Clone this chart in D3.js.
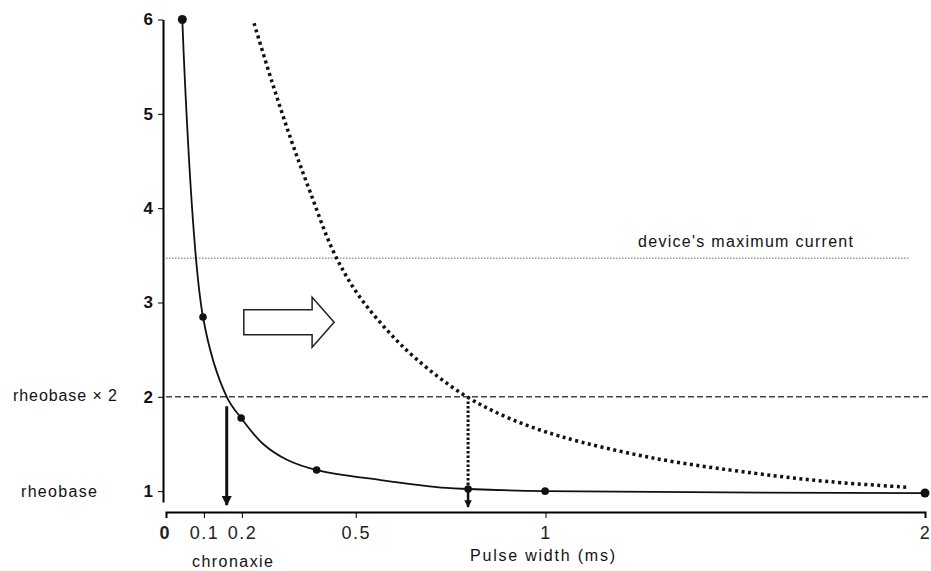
<!DOCTYPE html>
<html>
<head>
<meta charset="utf-8">
<script src="https://cdn.jsdelivr.net/npm/d3@7"></script>
<style>
  body { margin: 0; background: #fff; }
  svg { display: block; font-family: "Liberation Sans", Arial, sans-serif; }
</style>
</head>
<body>
<div class="chart"></div>
<script>
// measured points (pulse width ms, current in rheobase units)
const markerT = [0.043, 0.0975, 0.198, 0.397, 0.796, 0.999, 2.0];
const markerI = [6.0, 2.846, 1.775, 1.224, 1.023, 1.0, 0.98];

// traced fitted curve through the markers
const curveT = [0.043, 0.0975, 0.160, 0.198, 0.256, 0.32, 0.397, 0.566, 0.74, 0.796, 0.999, 2.0];
const curveI = [6.0, 2.846, 2.0, 1.775, 1.50, 1.33, 1.224, 1.118, 1.034, 1.023, 1.0, 0.98];

// shifted curve (dotted)
const shiftT = [0.232, 0.28, 0.33, 0.38, 0.44, 0.50, 0.575, 0.66, 0.785, 0.90, 1.04, 1.285, 1.55, 1.75, 1.96];
const shiftI = [5.96, 5.33, 4.72, 4.17, 3.55, 3.12, 2.74, 2.40, 2.02, 1.78, 1.58, 1.35, 1.19, 1.10, 1.04];

const xTicks = [0, 0.1, 0.2, 0.5, 1, 2];
const xTickLabels = ["0", "0.1", "0.2", "0.5", "1", "2"];
const yTicks = [1, 2, 3, 4, 5, 6];

const rheobaseX2 = 2;
const deviceMax = 3.47;
const chronaxie = 0.160;
const newPulse = 0.796;

const WIDTH = 931, HEIGHT = 571;

const svg = d3.select('.chart').append('svg')
  .attr("width", WIDTH)
  .attr("height", HEIGHT);

const x = d3.scaleLinear().domain([0, 2]).range([166, 925]);
const y = d3.scaleLinear().domain([0.885, 6]).range([502, 19.5]);

// reference lines
svg.append("line")
  .attr("x1", x(0)).attr("x2", WIDTH)
  .attr("y1", y(rheobaseX2)).attr("y2", y(rheobaseX2))
  .attr("stroke", "#444").attr("stroke-width", 1.6)
  .attr("stroke-dasharray", "6,3");

svg.append("line")
  .attr("x1", x(0)).attr("x2", 910)
  .attr("y1", y(deviceMax)).attr("y2", y(deviceMax))
  .attr("stroke", "#666").attr("stroke-width", 1)
  .attr("stroke-dasharray", "1.5,1.5");

svg.append("text")
  .attr("x", 638).attr("y", 247)
  .attr("font-size", 16)
  .attr("textLength", 215)
  .attr("fill", "#111")
  .text("device's maximum current");

// axes
const yAxis = d3.axisLeft(y).tickValues(yTicks).tickSize(5).tickSizeOuter(0).tickPadding(5)
  .tickFormat(d3.format("d"));
const gy = svg.append("g").attr("transform", "translate(163,0)").call(yAxis);
gy.select(".domain").attr("stroke-width", 2);
gy.selectAll("text").attr("font-size", 17).attr("font-weight", "bold").attr("fill", "#111");

const xAxis = d3.axisBottom(x).tickValues(xTicks).tickSize(6).tickSizeOuter(6).tickPadding(8)
  .tickFormat((d, i) => xTickLabels[i]);
const gx = svg.append("g").attr("transform", "translate(0,512)").call(xAxis);
gx.select(".domain").attr("stroke-width", 2);
gx.selectAll("text").attr("font-size", 18).attr("fill", "#222").attr("letter-spacing", 1.5);
gx.selectAll("text").filter(d => d === 0).attr("font-size", 18).attr("font-weight", "bold")
  .attr("letter-spacing", 0).attr("dx", -2);

// curves
const curveData = curveT.map((t, i) => [t, curveI[i]]);
const shiftData = shiftT.map((t, i) => [t, shiftI[i]]);

const line = d3.line().x(d => x(d[0])).y(d => y(d[1])).curve(d3.curveCatmullRom.alpha(0.5));

svg.append("path")
  .datum(curveData)
  .attr("d", line)
  .attr("fill", "none")
  .attr("stroke", "#111")
  .attr("stroke-width", 1.8);

svg.append("path")
  .datum(shiftData)
  .attr("d", line)
  .attr("fill", "none")
  .attr("stroke", "#111")
  .attr("stroke-width", 3.5)
  .attr("stroke-dasharray", "3,3.5");

svg.selectAll("circle.marker")
  .data(markerT.map((t, i) => [t, markerI[i]]))
  .enter().append("circle")
  .attr("class", "marker")
  .attr("cx", d => x(d[0]))
  .attr("cy", d => y(d[1]))
  .attr("r", (d, i) => i === 0 || i === markerT.length - 1 ? 4.5 : 3.8)
  .attr("fill", "#111");

// arrowheads
const defs = svg.append("defs");
defs.append("marker")
  .attr("id", "head")
  .attr("viewBox", "0 0 10 10")
  .attr("refX", 9).attr("refY", 5)
  .attr("markerWidth", 3.5).attr("markerHeight", 3.5)
  .attr("markerUnits", "strokeWidth")
  .attr("orient", "auto")
  .append("path").attr("d", "M0,0L10,5L0,10Z").attr("fill", "#111");
defs.append("marker")
  .attr("id", "head2")
  .attr("viewBox", "0 0 10 10")
  .attr("refX", 9).attr("refY", 5)
  .attr("markerWidth", 3).attr("markerHeight", 3)
  .attr("markerUnits", "strokeWidth")
  .attr("orient", "auto")
  .append("path").attr("d", "M0,0L10,5L0,10Z").attr("fill", "#111");

// chronaxie arrow
svg.append("line")
  .attr("x1", x(chronaxie)).attr("x2", x(chronaxie))
  .attr("y1", y(1.9)).attr("y2", 505)
  .attr("stroke", "#111").attr("stroke-width", 3)
  .attr("marker-end", "url(#head)");

// new pulse width arrow (dotted)
svg.append("line")
  .attr("x1", x(newPulse)).attr("x2", x(newPulse))
  .attr("y1", y(1.95)).attr("y2", y(1.06))
  .attr("stroke", "#111").attr("stroke-width", 3)
  .attr("stroke-dasharray", "2.5,2");
svg.append("line")
  .attr("x1", x(newPulse)).attr("x2", x(newPulse))
  .attr("y1", y(1.0)).attr("y2", 507)
  .attr("stroke", "#111").attr("stroke-width", 2.5)
  .attr("marker-end", "url(#head2)");

// hollow block arrow (shift to the right)
const ax0 = x(0.205), ax1 = x(0.385), ax2 = x(0.443);
const ac = y(2.79);
svg.append("path")
  .attr("d", `M${ax0},${ac - 12.5}L${ax1},${ac - 12.5}L${ax1},${ac - 25}L${ax2},${ac}` +
             `L${ax1},${ac + 25}L${ax1},${ac + 12.5}L${ax0},${ac + 12.5}Z`)
  .attr("fill", "#fff")
  .attr("stroke", "#222")
  .attr("stroke-width", 1.5);

// side labels
svg.append("text").attr("x", 13).attr("y", 401)
  .attr("font-size", 16).attr("textLength", 104).attr("fill", "#111")
  .text("rheobase × 2");
svg.append("text").attr("x", 21).attr("y", 497)
  .attr("font-size", 16).attr("textLength", 76).attr("fill", "#111")
  .text("rheobase");
svg.append("text").attr("x", 192).attr("y", 567)
  .attr("font-size", 16).attr("textLength", 81).attr("fill", "#111")
  .text("chronaxie");
svg.append("text").attr("x", 470).attr("y", 561)
  .attr("font-size", 16).attr("textLength", 145).attr("fill", "#111")
  .text("Pulse width (ms)");
</script>
</body>
</html>
